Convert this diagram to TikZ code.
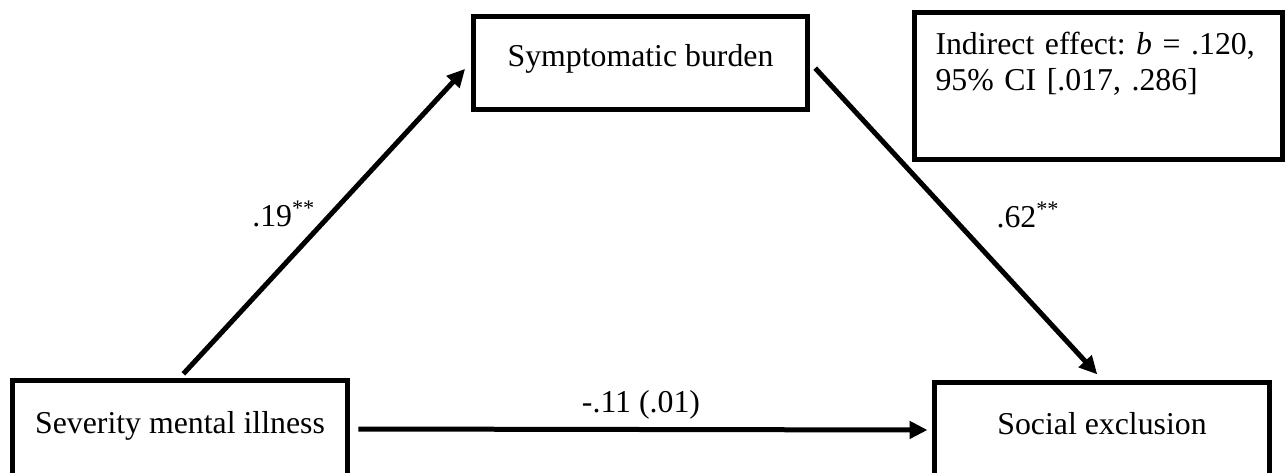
\documentclass[tikz,border=0pt]{standalone}
\usepackage{fontspec}
\setmainfont{Liberation Serif}
\usetikzlibrary{arrows.meta}

\begin{document}
\begin{tikzpicture}[x=0.02cm,y=-0.02cm,font=\fontsize{18.1}{20}\selectfont\frenchspacing,
  var/.style={draw,line width=0.1cm,inner sep=0pt,minimum width=6.72cm,text height=0.45cm,text depth=0.29cm},
  effect/.style={line width=0.1cm,-{Triangle[length=0.36cm,width=0.34cm]}}]
\useasboundingbox (0,0) rectangle (1285,473);
\clip (0,0) rectangle (1285,473);
\node[var,minimum height=1.96cm] (sev) at (180,429) {Severity mental illness};
\node[var,minimum height=1.88cm,minimum width=6.7cm] (sym) at (640.5,63) {Symptomatic burden};
\node[var,minimum height=1.92cm] (soc) at (1102,430) {Social exclusion};
\node[draw,line width=0.1cm,anchor=base west,inner xsep=0.42cm,inner ysep=0pt,text width=6.52cm,text height=0.86cm,text depth=2.1cm,align=left] (ind) at (912,55) {\mbox{Indirect effect: \textit{b} = .120,}\\95\% CI [.017, .286]};
\draw[effect,shorten <=0.1cm,shorten >=0.16cm] (sev.north) -- node[pos=.48,anchor=base east,inner sep=1pt] (a) {.19\textsuperscript{**}} (sym.west);
\draw[effect,shorten <=0.14cm,shorten >=0.14cm] (sym.east) -- node[pos=.52,anchor=base west,xshift=0.64cm,inner sep=0pt] (b) {.62\textsuperscript{**}} (soc.north);
\draw[effect,shorten <=0.16cm,shorten >=0.08cm] (sev.east) -- node[midway,anchor=base,yshift=0.34cm] (c) {-.11 (.01)} (soc.west);
\end{tikzpicture}
\end{document}
